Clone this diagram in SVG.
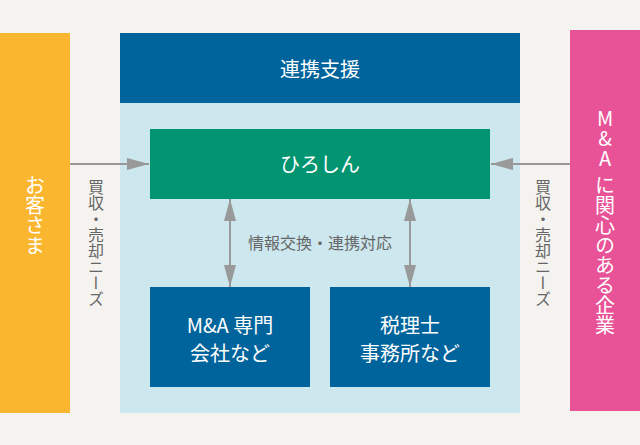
<svg xmlns="http://www.w3.org/2000/svg" width="640" height="445" viewBox="0 0 640 445">
<style>
text{font-family:"Noto Sans CJK JP","Noto Sans",sans-serif;fill:#fff;font-size:20px;text-anchor:middle}
.v{writing-mode:vertical-rl;text-orientation:upright;text-anchor:start}
.n{fill:#666;font-size:16px}
.l{stroke:#999;stroke-width:2;fill:none}
.h{fill:#999}
</style>
<defs>
<marker id="ah" viewBox="0 0 22 12" refX="22" refY="6" markerWidth="22" markerHeight="12" markerUnits="userSpaceOnUse" orient="auto-start-reverse"><path class="h" d="M0 0L22 6L0 12Z"/></marker>
</defs>
<rect width="640" height="445" fill="#f4f3ef"/>
<g id="panel"><rect x="120" y="103" width="400" height="310" fill="#cce7ee"/></g>
<g id="customer"><rect x="0" y="33" width="70" height="380" fill="#fab62e"/><text class="v" x="35" y="175">お客さま</text></g>
<g id="companies"><rect x="570" y="30" width="70" height="381" fill="#e85397"/><text class="v" x="605" y="108" style="word-spacing:-13px">M&amp;A に関心のある企業</text></g>
<g id="support"><rect x="120" y="33" width="400" height="70" fill="#00649c"/><text x="320" y="77">連携支援</text></g>
<g id="hiroshin"><rect x="150" y="129" width="340" height="70" fill="#009470"/><text x="320" y="172">ひろしん</text></g>
<g id="ma"><rect x="150" y="287" width="160" height="100" fill="#00649c"/><text x="230" y="333">M&amp;A 専門</text><text x="230" y="361">会社など</text></g>
<g id="tax"><rect x="330" y="287" width="160" height="100" fill="#00649c"/><text x="410" y="333">税理士</text><text x="410" y="361">事務所など</text></g>
<g id="connectors">
<path class="l" d="M70 164H149" marker-end="url(#ah)"/>
<path class="l" d="M570 164H491" marker-end="url(#ah)"/>
<path class="l" d="M230 199V287" marker-start="url(#ah)" marker-end="url(#ah)"/>
<path class="l" d="M410 199V287" marker-start="url(#ah)" marker-end="url(#ah)"/>
</g>
<g id="labels">
<text class="v n" x="96" y="179">買収・売却ニーズ</text>
<text class="v n" x="543" y="179">買収・売却ニーズ</text>
<text class="n" x="320" y="249">情報交換・連携対応</text>
</g>
</svg>
